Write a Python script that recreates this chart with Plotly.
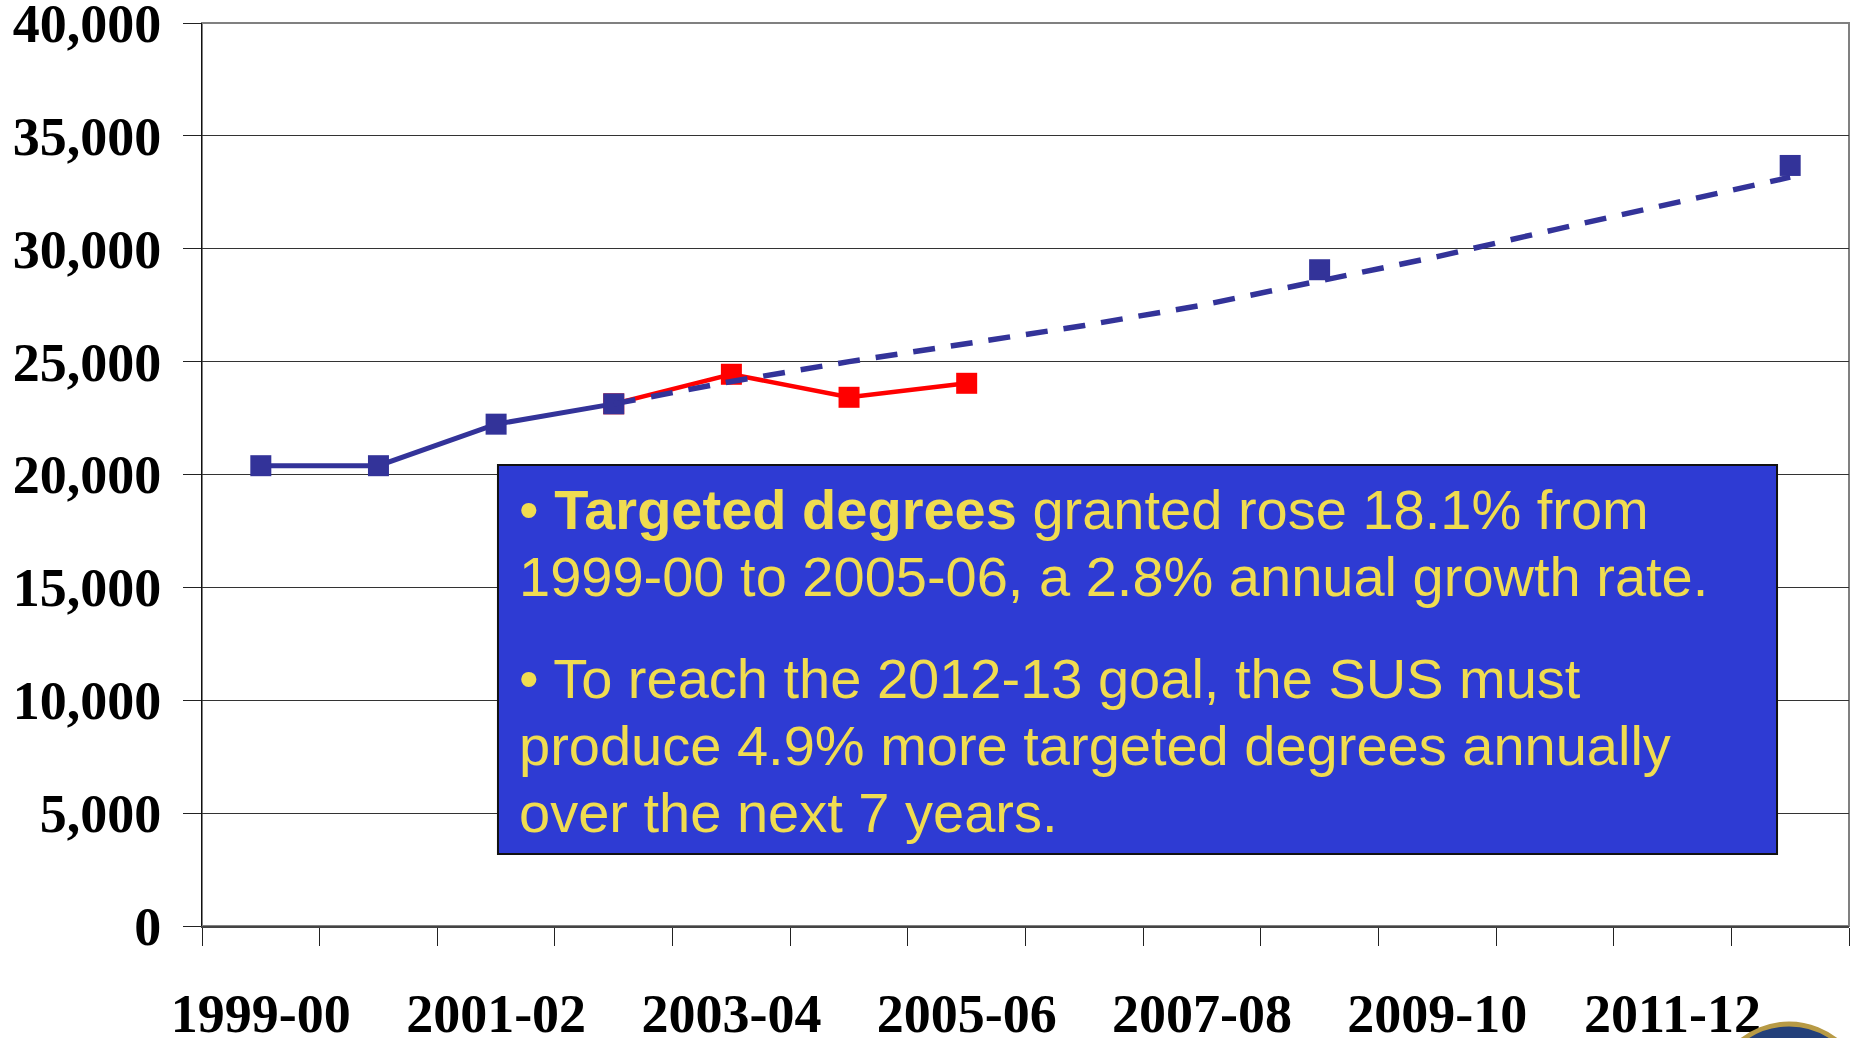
import plotly.graph_objects as go

categories = ["1999-00", "2000-01", "2001-02", "2002-03", "2003-04", "2004-05", "2005-06",
              "2006-07", "2007-08", "2008-09", "2009-10", "2010-11", "2011-12", "2012-13"]
tick_labels = ["1999-00", "", "2001-02", "", "2003-04", "", "2005-06",
               "", "2007-08", "", "2009-10", "", "2011-12", ""]

actual_cats = ["1999-00", "2000-01", "2001-02", "2002-03"]
actual_vals = [20390, 20390, 22230, 23130]

recent_cats = ["2002-03", "2003-04", "2004-05", "2005-06"]
recent_vals = [23130, 24440, 23420, 24040]

goal_cats = ["2002-03", "2003-04", "2004-05", "2005-06", "2006-07", "2007-08",
             "2008-09", "2009-10", "2010-11", "2011-12", "2012-13"]
goal_vals = [23130, 24120, 25000, 25790, 26600, 27500, 28550, 29650, 30850, 32000, 33170]

target_cats = ["2008-09", "2012-13"]
target_vals = [29070, 33690]

BLUE = "#333399"
RED = "#FF0000"

fig = go.Figure()

fig.add_trace(go.Scatter(
    x=recent_cats, y=recent_vals, mode="lines+markers",
    line=dict(color=RED, width=4.5),
    marker=dict(symbol="square", size=21, color=RED),
    showlegend=False, hoverinfo="skip"))

fig.add_trace(go.Scatter(
    x=actual_cats, y=actual_vals, mode="lines+markers",
    line=dict(color=BLUE, width=5),
    marker=dict(symbol="square", size=21, color=BLUE),
    showlegend=False, hoverinfo="skip"))

fig.add_trace(go.Scatter(
    x=goal_cats, y=goal_vals, mode="lines",
    line=dict(color=BLUE, width=5.5, dash="22px,16px"),
    showlegend=False, hoverinfo="skip"))

fig.add_trace(go.Scatter(
    x=target_cats, y=target_vals, mode="markers",
    marker=dict(symbol="square", size=21, color=BLUE),
    showlegend=False, hoverinfo="skip"))

# plot border
fig.add_shape(type="rect", xref="paper", yref="paper", x0=0, x1=1, y0=0, y1=1,
              line=dict(color="#808080", width=2), layer="below")

# text box
fig.add_shape(type="rect", xref="paper", yref="paper",
              x0=0.1797, x1=0.9563, y0=0.0797, y1=0.5105,
              fillcolor="#2E3BD3", line=dict(color="#111111", width=2), layer="above")

YEL = "#F0DC50"
text_lines = [
    "\u2022 <b>Targeted degrees</b> granted rose 18.1% from",
    "1999-00 to 2005-06, a 2.8% annual growth rate.",
    "\u2022 To reach the 2012-13 goal, the SUS must",
    "produce 4.9% more targeted degrees annually",
    "over the next 7 years.",
]
line_y = [0.4610, 0.3865, 0.2742, 0.1998, 0.1252]
for t, yy in zip(text_lines, line_y):
    fig.add_annotation(text=t, xref="paper", yref="paper", x=0.1915, y=yy,
                       xanchor="left", yanchor="middle", showarrow=False,
                       font=dict(family="Liberation Sans, Arial", size=56, color=YEL))

# seal logo at bottom right (partially visible)
fig.add_shape(type="circle", xref="paper", yref="paper",
              x0=(1712 - 202) / 1647, x1=(1866 - 202) / 1647,
              y0=(926 - 1180) / 903, y1=(926 - 1024) / 903,
              fillcolor="#23407A", line=dict(color="#B79A45", width=5), layer="above")

TICKFONT = dict(family="Liberation Serif, Times New Roman", size=54, color="black", weight="bold")

fig.update_layout(
    width=1850, height=1038, autosize=False,
    margin=dict(l=202, r=1, t=23, b=112, pad=0, autoexpand=False),
    paper_bgcolor="white", plot_bgcolor="white",
    showlegend=False,
    xaxis=dict(
        type="category", categoryorder="array", categoryarray=categories,
        range=[-0.5, 13.5], automargin=False,
        tickmode="array", tickvals=categories, ticktext=tick_labels,
        tickson="boundaries", ticks="outside", ticklen=18, tickcolor="#222222", tickwidth=1,
        showgrid=False, showline=True, linecolor="#444444", linewidth=2,
        tickangle=0, ticklabelstandoff=39, ticklabeloverflow="allow",
        tickfont=TICKFONT,
        fixedrange=True,
    ),
    yaxis=dict(
        range=[0, 40000], tickmode="linear", tick0=0, dtick=5000, tickformat=",d",
        automargin=False,
        ticks="outside", ticklen=18, tickcolor="#222222", tickwidth=1,
        showgrid=True, gridcolor="#333333", gridwidth=1,
        showline=True, linecolor="#111111", linewidth=1, zeroline=False,
        ticklabelstandoff=11, ticklabeloverflow="allow",
        tickfont=TICKFONT,
        fixedrange=True,
    ),
)

fig.write_html("out.html", config={"displayModeBar": False, "responsive": False},
               post_script="document.body.style.margin='0';document.body.style.overflow='hidden';")
